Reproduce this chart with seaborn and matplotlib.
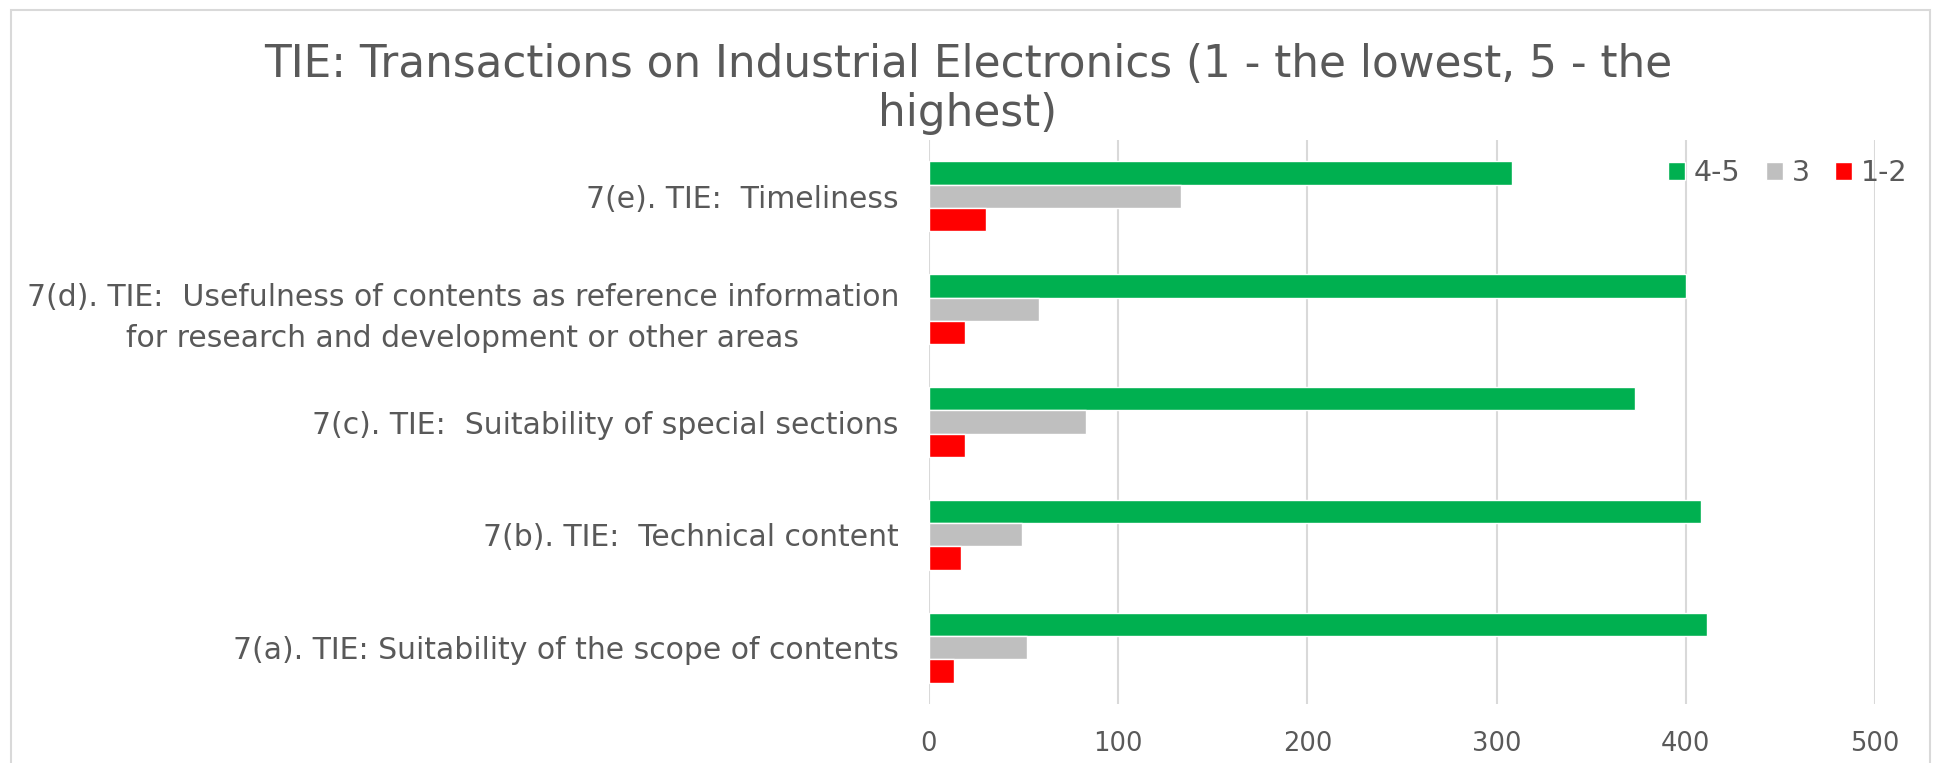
import matplotlib
matplotlib.use("Agg")
import matplotlib.pyplot as plt
import seaborn as sns
import pandas as pd
from matplotlib.patches import Rectangle

categories = [
    "7(e). TIE:  Timeliness",
    "7(d). TIE:  Usefulness of contents as reference information\nfor research and development or other areas",
    "7(c). TIE:  Suitability of special sections",
    "7(b). TIE:  Technical content",
    "7(a). TIE: Suitability of the scope of contents",
]
series_names = ["4-5", "3", "1-2"]
vals_45 = [308, 400, 373, 408, 411]
vals_3 = [133, 58, 83, 49, 52]
vals_12 = [30, 19, 19, 17, 13]
colors = ["#00B050", "#BFBFBF", "#FF0000"]
xticks = [0, 100, 200, 300, 400, 500]
title = "TIE: Transactions on Industrial Electronics (1 - the lowest, 5 - the\nhighest)"

rows = []
for name, vals in zip(series_names, [vals_45, vals_3, vals_12]):
    for c, v in zip(categories, vals):
        rows.append({"category": c, "series": name, "value": v})
df = pd.DataFrame(rows)

sns.set_theme(style="white")
plt.rcParams["font.family"] = ["DejaVu Sans"]
txt = "#595959"

W, H = 1934, 763
fig = plt.figure(figsize=(W / 100, H / 100), dpi=100)
ax = fig.add_axes([929 / W, 1 - 704 / H, (1875 - 929) / W, (704 - 140) / H])

sns.barplot(data=df, y="category", x="value", hue="series", order=categories,
            hue_order=series_names, palette=colors, orient="h", width=0.62,
            saturation=1, ax=ax, legend=True)

ax.set_xlim(0, 500)
ax.set_xticks(xticks)
ax.set_xlabel("")
ax.set_ylabel("")
ax.grid(axis="x", color="#D9D9D9", linewidth=1.5)
ax.set_axisbelow(True)
for s in ax.spines.values():
    s.set_visible(False)
ax.tick_params(axis="both", length=0, colors=txt)
ax.tick_params(axis="y", pad=21.6, labelsize=21.5)
ax.tick_params(axis="x", pad=19.5, labelsize=18.5)
for lab in ax.get_yticklabels():
    lab.set_multialignment("center")
    lab.set_linespacing(1.5)
    lab.set_color(txt)

handles, labels = ax.get_legend_handles_labels()
ax.legend(handles, labels, ncol=3, loc="center left",
          bbox_to_anchor=(1668 / W, 1 - 173 / H), bbox_transform=fig.transFigure,
          frameon=False, handlelength=0.6, handleheight=0.6, handletextpad=0.3,
          columnspacing=0.9, fontsize=20.5, labelcolor=txt, borderaxespad=0,
          borderpad=0)

fig.text(968 / W, 1 - 89 / H, title, ha="center", va="center", fontsize=31.5,
         color=txt, linespacing=1.15)

fig.patches.append(Rectangle((11 / W, -0.05), (1930 - 11) / W, 1.05 - 10 / H,
                             transform=fig.transFigure, fill=False,
                             edgecolor="#D9D9D9", linewidth=1.5))

fig.savefig("out.png", dpi=100)
